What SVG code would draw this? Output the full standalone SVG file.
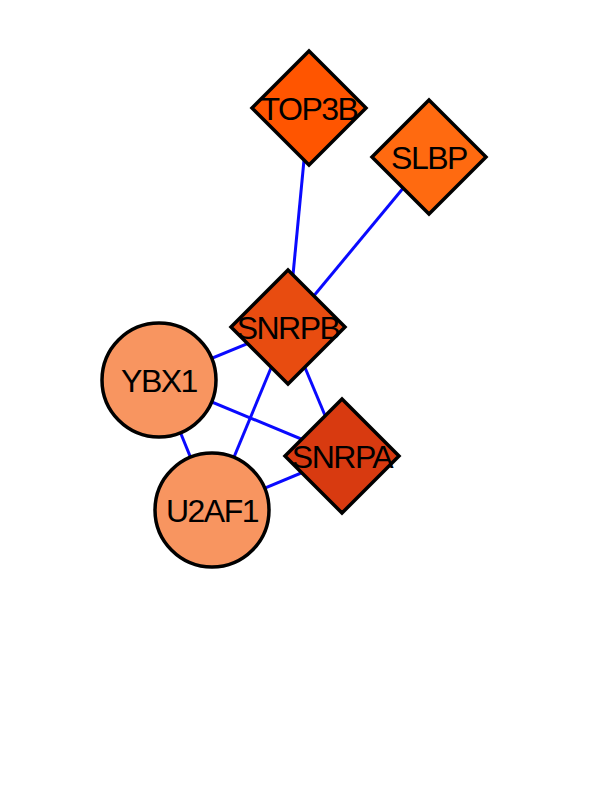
<svg xmlns="http://www.w3.org/2000/svg" width="612" height="792" viewBox="0 0 612 792">
<style>
.e{stroke:#0a0aff;stroke-width:3;fill:none}
.n{stroke:#000;stroke-width:3.5}
.t{font-family:"Liberation Sans",Arial,sans-serif;font-size:32px;letter-spacing:-1.5px;text-anchor:middle;fill:#000}
</style>
<rect width="612" height="792" fill="#fff"/>
<g id="connectors">
<line class="e" x1="309" y1="108" x2="288" y2="327"/>
<line class="e" x1="429" y1="157" x2="288" y2="327"/>
<line class="e" x1="288" y1="327" x2="159" y2="380"/>
<line class="e" x1="288" y1="327" x2="212" y2="510"/>
<line class="e" x1="288" y1="327" x2="342" y2="456"/>
<line class="e" x1="159" y1="380" x2="342" y2="456"/>
<line class="e" x1="159" y1="380" x2="212" y2="510"/>
<line class="e" x1="212" y1="510" x2="342" y2="456"/>
</g>
<g id="TOP3B"><polygon class="n" fill="#ff5500" points="309,51 366,108 309,165 252,108"/><text class="t" x="309" y="120">TOP3B</text></g>
<g id="SLBP"><polygon class="n" fill="#ff6a10" points="429,100 486,157 429,214 372,157"/><text class="t" x="429" y="169">SLBP</text></g>
<g id="SNRPB"><polygon class="n" fill="#e84c10" points="288,270 345,327 288,384 231,327"/><text class="t" x="288" y="339">SNRPB</text></g>
<g id="YBX1"><circle class="n" fill="#f89560" cx="159" cy="380" r="57"/><text class="t" x="159" y="392">YBX1</text></g>
<g id="U2AF1"><circle class="n" fill="#f89560" cx="212" cy="510" r="57"/><text class="t" x="212" y="522">U2AF1</text></g>
<g id="SNRPA"><polygon class="n" fill="#d83a10" points="342,399 399,456 342,513 285,456"/><text class="t" x="342" y="468">SNRPA</text></g>
</svg>
